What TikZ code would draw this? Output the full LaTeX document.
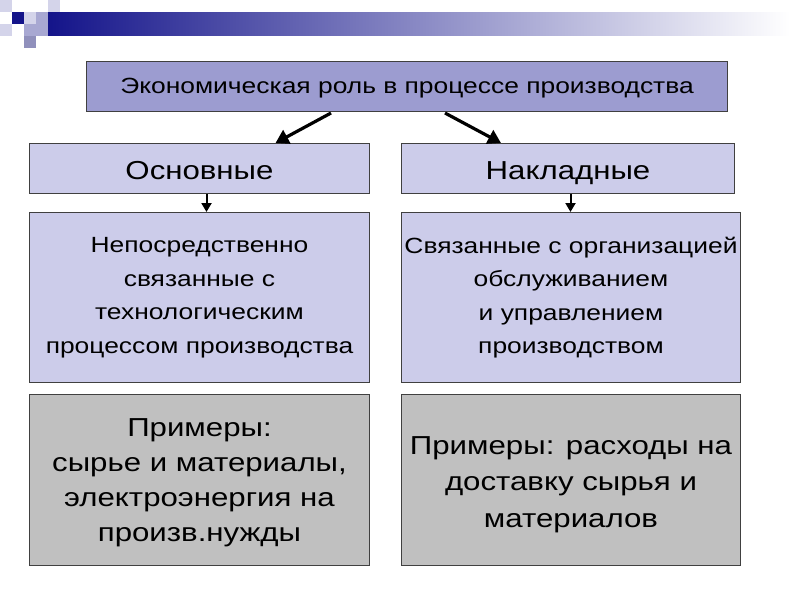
\documentclass[tikz,border=0pt]{standalone}
\usepackage{fontspec}
\setmainfont{Liberation Sans}[FakeStretch=1.2]
\usetikzlibrary{arrows.meta,calc}
\definecolor{topfill}{HTML}{9C9CD0}
\definecolor{midfill}{HTML}{CCCCEA}
\definecolor{grayfill}{HTML}{C0C0C0}
\definecolor{navyc}{HTML}{14148A}
\definecolor{sqlight}{HTML}{D4D4EA}
\definecolor{sqmid}{HTML}{A8A8D2}
\definecolor{sqgray}{HTML}{9090BC}
\definecolor{edgec}{HTML}{404040}
\begin{document}
\begin{tikzpicture}[x=1pt,y=-1pt,
  box/.style={draw=edgec, line width=1pt, anchor=north west, inner sep=0pt, align=center, text=black},
  bigarrow/.style={line width=3.2pt, -{Triangle[length=13pt,width=15pt]}},
  smallarrow/.style={line width=2pt, -{Triangle[length=9pt,width=10pt]}}]
\useasboundingbox (0,0) rectangle (800,600);
% decoration
\shade[left color=navyc, right color=white] (48,12) rectangle (790,35);
\fill[sqlight] (0,0) rectangle (12,12);
\fill[sqlight] (48,0) rectangle (60,12);
\fill[sqlight] (0,24) rectangle (12,36);
\fill[navyc] (12,12) rectangle (24,24);
\fill[sqlight] (24,12) rectangle (36,24);
\fill[sqmid] (36,12) rectangle (48,24);
\fill[sqmid] (24,24) rectangle (36,36);
\fill[sqmid] (36,24) rectangle (48,36);
\fill[sqgray] (24,36) rectangle (36,48);
% boxes
\node[box, text height=15pt, text depth=1pt, fill=topfill, minimum width=641pt, minimum height=50pt, font=\fontsize{22}{25}\selectfont] (top) at (86,61) {Экономическая роль в процессе производства};
\node[box, text height=23pt, text depth=1pt, fill=midfill, minimum width=340pt, minimum height=50pt, font=\fontsize{26}{30}\selectfont] (osn) at (29,143) {Основные};
\node[box, text height=23pt, text depth=1pt, fill=midfill, minimum width=333pt, minimum height=50pt, font=\fontsize{26}{30}\selectfont] (nak) at (401,143) {Накладные};
\node[box, fill=midfill, minimum width=340pt, minimum height=170pt, font=\fontsize{22}{33.5}\selectfont] (osd) at (29,212) {Непосредственно\\связанные с\\технологическим\\процессом производства};
\node[box, fill=midfill, minimum width=339pt, minimum height=170pt, font=\fontsize{22}{33.5}\selectfont] (nakd) at (401,212) {Связанные с организацией\\обслуживанием\\и управлением\\производством};
\node[box, fill=grayfill, minimum width=340pt, minimum height=171pt, font=\fontsize{26}{35}\selectfont] (osx) at (29,394) {\rule{0pt}{23pt}Примеры:\\сырье и материалы,\\электроэнергия на\\произв.нужды};
\node[box, fill=grayfill, minimum width=339pt, minimum height=171pt, font=\fontsize{26}{36.5}\selectfont] (nakx) at (401,394) {\rule{0pt}{27pt}Примеры: расходы на\\доставку сырья и\\материалов};
% arrows
\draw[bigarrow] ([xshift=-76pt,yshift=-1pt]top.south) -- ([xshift=76pt]osn.north);
\draw[bigarrow] ([xshift=38pt,yshift=-1pt]top.south) -- ([xshift=-67pt]nak.north);
\draw[smallarrow] ([xshift=7pt]osn.south) -- ([xshift=7pt]osd.north);
\draw[smallarrow] ([xshift=2.5pt]nak.south) -- ([xshift=-0.5pt]nakd.north);
\end{tikzpicture}
\end{document}
